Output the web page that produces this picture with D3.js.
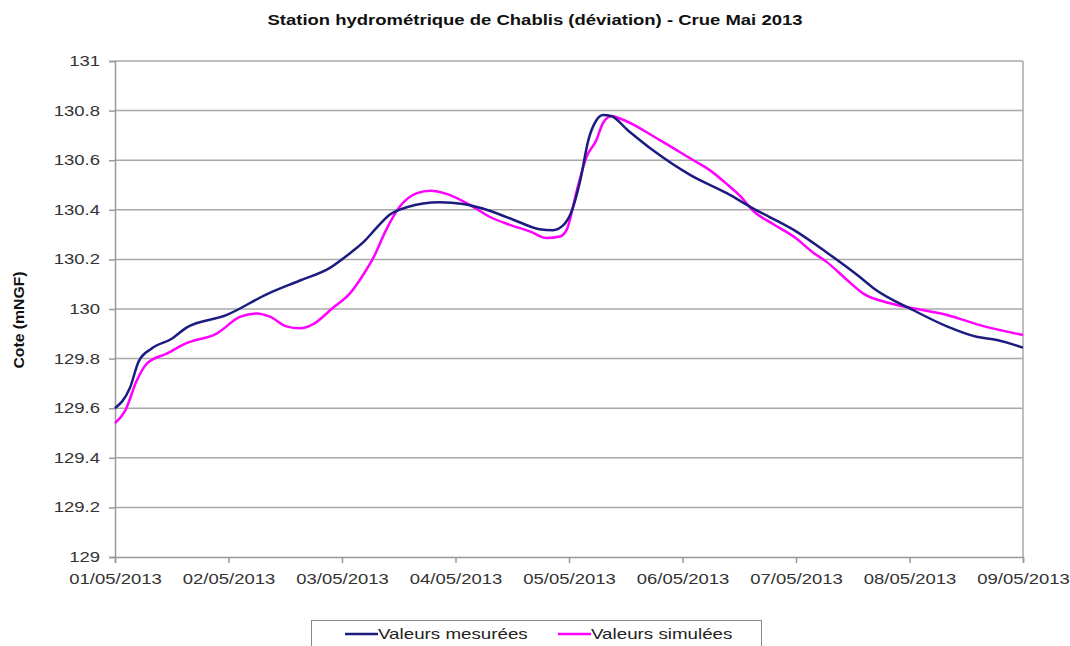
<!DOCTYPE html>
<html><head><meta charset="utf-8">
<script src="https://cdn.jsdelivr.net/npm/d3@7"></script>
<style>
body{margin:0;background:#fff;}
text{font-family:"Liberation Sans",Arial,sans-serif;}
</style></head>
<body><svg id="chart" width="1070" height="646"></svg>
<script>
const title = "Station hydrométrique de Chablis (déviation) - Crue Mai 2013";
const yAxisTitle = "Cote (mNGF)";
const seriesNames = ["Valeurs mesurées", "Valeurs simulées"];
const yTicks = [129, 129.2, 129.4, 129.6, 129.8, 130, 130.2, 130.4, 130.6, 130.8, 131];
const xTickLabels = ["01/05/2013","02/05/2013","03/05/2013","04/05/2013","05/05/2013","06/05/2013","07/05/2013","08/05/2013","09/05/2013"];

// time in days since 01/05/2013 00:00
const measuredDays = [0,0.13,0.21,0.32,0.50,0.63,0.98,1.34,1.63,1.89,2.07,2.20,2.30,2.42,2.57,2.86,3.07,3.24,3.51,3.74,3.86,3.95,4.02,4.10,4.17,4.24,4.30,4.37,4.52,4.74,5.07,5.39,5.62,5.98,6.28,6.56,6.68,7.03,7.33,7.59,7.77,8.0];
const measuredValues = [129.600,129.68,129.79,129.84,129.88,129.925,129.975,130.06,130.115,130.165,130.225,130.275,130.325,130.38,130.41,130.43,130.423,130.405,130.36,130.322,130.318,130.338,130.39,130.52,130.68,130.76,130.782,130.778,130.72,130.64,130.54,130.467,130.406,130.319,130.225,130.13,130.085,129.996,129.93,129.888,129.875,129.844];

const simulatedDays = [0,0.09,0.19,0.28,0.455,0.63,0.90,1.10,1.25,1.37,1.51,1.63,1.75,1.92,2.07,2.19,2.28,2.39,2.51,2.66,2.78,2.92,3.13,3.30,3.48,3.66,3.80,3.92,3.98,4.07,4.155,4.24,4.30,4.376,4.46,4.80,5.095,5.24,5.40,5.51,5.62,5.80,5.98,6.15,6.27,6.45,6.59,6.83,7.03,7.33,7.62,8.0];
const simulatedValues = [129.54,129.59,129.71,129.78,129.82,129.862,129.902,129.968,129.982,129.968,129.93,129.922,129.94,130.005,130.063,130.14,130.21,130.32,130.413,130.467,130.477,130.464,130.419,130.372,130.339,130.312,130.286,130.292,130.32,130.48,130.614,130.68,130.75,130.778,130.766,130.681,130.6,130.56,130.5,130.455,130.397,130.342,130.292,130.228,130.19,130.117,130.063,130.023,130.003,129.976,129.935,129.895];

const colors = ["#1c1c80", "#ff00ff"];

const svg = d3.select("#chart");
const L = 115, R = 1023, T = 61, B = 557;
const t0 = new Date(2013, 4, 1);
const toDate = d => new Date(t0.getTime() + d * 86400000);
const x = d3.scaleTime().domain([t0, toDate(8)]).range([L, R]);
const y = d3.scaleLinear().domain([129, 131]).range([B, T]);
const SX = 1.32; // horizontal stretch of the reference glyphs
function stretch(sel, k) {
  sel.each(function () {
    const w = this.getComputedTextLength();
    d3.select(this).attr("textLength", w * k).attr("lengthAdjust", "spacingAndGlyphs");
  });
}

// title
svg.append("text").attr("x", 535).attr("y", 25).attr("text-anchor", "middle")
  .attr("font-size", 14).attr("font-weight", "bold").attr("fill", "#111").text(title)
  .call(stretch, SX);

// grid
svg.append("g").selectAll("line").data(yTicks.filter(v => v > 129)).join("line")
  .attr("x1", L).attr("x2", R).attr("y1", d => y(d)).attr("y2", d => y(d))
  .attr("stroke", "#a8a8a8").attr("stroke-width", 1.5);
// right border
svg.append("line").attr("x1", R).attr("x2", R).attr("y1", T).attr("y2", B)
  .attr("stroke", "#a8a8a8").attr("stroke-width", 1.5);

// y axis
const yAxis = d3.axisLeft(y).tickValues(yTicks).tickSize(6).tickPadding(9)
  .tickFormat(d => d3.format("~g")(+d.toFixed(1)));
const gy = svg.append("g").attr("transform", `translate(${L},0)`).call(yAxis);
gy.select(".domain").attr("stroke", "#999").attr("stroke-width", 1.5);
gy.selectAll(".tick line").attr("stroke", "#999").attr("stroke-width", 1.5);
gy.selectAll(".tick text").attr("font-size", 14).attr("fill", "#333")
  .attr("font-family", "Liberation Sans, Arial, sans-serif").call(stretch, SX);

// x axis
const xTickDates = xTickLabels.map((s, i) => toDate(i));
const xAxis = d3.axisBottom(x).tickValues(xTickDates).tickSize(6).tickPadding(11)
  .tickFormat((d, i) => xTickLabels[i]);
const gx = svg.append("g").attr("transform", `translate(0,${B})`).call(xAxis);
gx.select(".domain").attr("stroke", "#999").attr("stroke-width", 1.5);
gx.selectAll(".tick line").attr("stroke", "#999").attr("stroke-width", 1.5);
gx.selectAll(".tick text").attr("font-size", 14).attr("fill", "#333")
  .attr("font-family", "Liberation Sans, Arial, sans-serif").call(stretch, SX);

// y axis title
svg.append("text").attr("transform", "translate(24,320) rotate(-90)")
  .attr("text-anchor", "middle").attr("font-size", 15).attr("font-weight", "bold")
  .attr("fill", "#111").text(yAxisTitle).call(stretch, 1.05);

// lines
const line = d3.line().x(d => x(toDate(d[0]))).y(d => y(d[1])).curve(d3.curveMonotoneX);
const series = [
  d3.zip(measuredDays, measuredValues),
  d3.zip(simulatedDays, simulatedValues)
];
svg.append("path").datum(series[1]).attr("d", line).attr("fill", "none")
  .attr("stroke", colors[1]).attr("stroke-width", 2.5);
svg.append("path").datum(series[0]).attr("d", line).attr("fill", "none")
  .attr("stroke", colors[0]).attr("stroke-width", 2.5);

// legend
const lg = svg.append("g");
lg.append("rect").attr("x", 311.5).attr("y", 620.5).attr("width", 450).attr("height", 40)
  .attr("fill", "#fff").attr("stroke", "#888").attr("stroke-width", 1);
const legX = [345, 558];
seriesNames.forEach((n, i) => {
  lg.append("line").attr("x1", legX[i]).attr("x2", legX[i] + 33).attr("y1", 634).attr("y2", 634)
    .attr("stroke", colors[i]).attr("stroke-width", 2.5);
  lg.append("text").attr("x", legX[i] + 33).attr("y", 639).attr("font-size", 15)
    .attr("fill", "#222").text(n).call(stretch, 1.25);
});
</script></body></html>
